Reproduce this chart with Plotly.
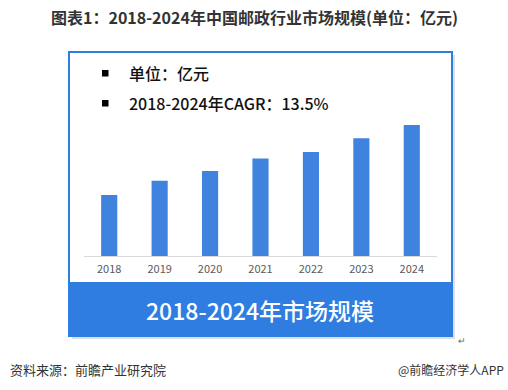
import plotly.graph_objects as go

years = ["2018", "2019", "2020", "2021", "2022", "2023", "2024"]
values = [7905, 9763, 11038, 12642, 13510, 15293, 17000]

title_text = "图表1：2018-2024年中国邮政行业市场规模(单位：亿元)"
note_unit = "单位：亿元"
note_cagr = "2018-2024年CAGR：13.5%"
band_text = "2018-2024年市场规模"
source_text = "资料来源：前瞻产业研究院"
brand_text = "@前瞻经济学人APP"

W, H = 508, 390
def px(x):
    return x / W
def py(y):
    return 1 - y / H

FONT = "Noto Sans CJK SC"
BLUE = "#2f7de1"
BAR = "#3f83de"

fig = go.Figure()
fig.add_trace(go.Bar(x=years, y=values, marker_color=BAR, marker_line_width=0,
                     hoverinfo="skip"))

y_top_px, y_base_px = 60, 256
bar_top_px = 125
yrange = values[-1] * (y_base_px - y_top_px) / (y_base_px - bar_top_px)

shapes = [
    dict(type="rect", xref="paper", yref="paper", x0=px(72), x1=px(455), y0=py(339), y1=py(55),
         fillcolor="rgba(0,0,0,0.12)", line_width=0, layer="below"),
    dict(type="rect", xref="paper", yref="paper", x0=px(69), x1=px(452), y0=py(336), y1=py(52),
         fillcolor="white", line=dict(color=BLUE, width=2), layer="below"),
    dict(type="rect", xref="paper", yref="paper", x0=px(69), x1=px(452), y0=py(336), y1=py(282),
         fillcolor=BLUE, line_width=0, layer="above"),
    dict(type="rect", xref="paper", yref="paper", x0=px(102), x1=px(108.5), y0=py(76.5), y1=py(70),
         fillcolor="black", line_width=0),
    dict(type="rect", xref="paper", yref="paper", x0=px(102), x1=px(108.5), y0=py(106.5), y1=py(100),
         fillcolor="black", line_width=0),
]

annotations = [
    dict(text="<b>" + title_text + "</b>", x=px(254), y=py(17), xref="paper", yref="paper",
         showarrow=False, font=dict(family=FONT, size=16, color="#333333"),
         xanchor="center", yanchor="middle"),
    dict(text=note_unit, x=px(127), y=py(73), xref="paper", yref="paper",
         showarrow=False, font=dict(family=FONT, size=16, color="#111111", weight=500),
         xanchor="left", yanchor="middle"),
    dict(text=note_cagr, x=px(127), y=py(103), xref="paper", yref="paper",
         showarrow=False, font=dict(family=FONT, size=16, color="#111111", weight=500),
         xanchor="left", yanchor="middle"),
    dict(text=band_text, x=px(260), y=py(310), xref="paper", yref="paper",
         showarrow=False, font=dict(family=FONT, size=23, color="white", weight=500),
         xanchor="center", yanchor="middle"),
    dict(text=source_text, x=px(8), y=py(369), xref="paper", yref="paper",
         showarrow=False, font=dict(family=FONT, size=13, color="#333333"),
         xanchor="left", yanchor="middle"),
    dict(text=brand_text, x=px(506), y=py(369), xref="paper", yref="paper",
         showarrow=False, font=dict(family=FONT, size=12, color="#333333"),
         xanchor="right", yanchor="middle"),
    dict(text="↵", x=px(462), y=py(340), xref="paper", yref="paper",
         showarrow=False, font=dict(family=FONT, size=9, color="#666666"),
         xanchor="center", yanchor="middle"),
]

fig.update_layout(
    width=W, height=H,
    margin=dict(l=0, r=0, t=0, b=0),
    paper_bgcolor="white", plot_bgcolor="rgba(0,0,0,0)",
    showlegend=False,
    bargap=0.68,
    shapes=shapes,
    annotations=annotations,
    xaxis=dict(domain=[px(84), px(437)], showline=True, linecolor="#d9d9d9", linewidth=1,
               showgrid=False, ticks="", ticklabelstandoff=3,
               tickfont=dict(family=FONT, size=11, color="#595959"),
               anchor="y", fixedrange=True),
    yaxis=dict(domain=[py(y_base_px), py(y_top_px)], range=[0, yrange], visible=False,
               showgrid=False, fixedrange=True),
)

fig.write_html("out.html", post_script="document.body.style.margin='0';",
               config={"displayModeBar": False})
